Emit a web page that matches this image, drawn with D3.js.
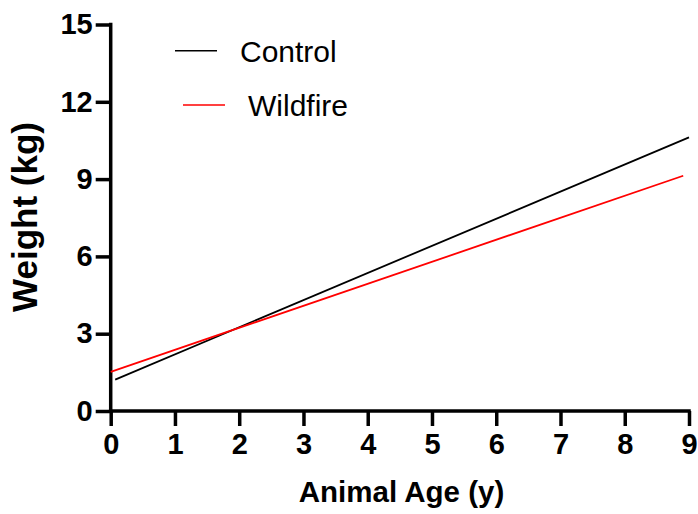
<html>
<head>
  <script src="https://d3js.org/d3.v7.min.js"></script>
  <style>
    body { margin: 0; background: #fff; }
    svg { font-family: 'Liberation Sans', Arial, sans-serif; }
  </style>
</head>
<body>
<div id="chart"></div>
<script>
  /*--- Chart data ---*/
  var seriesNames = ["Control", "Wildfire"],
    seriesColors = ["#000000", "#ff0000"],
    controlAge = [0.07, 9.0],
    controlWeight = [1.22, 10.62],
    wildfireAge = [0.0, 8.91],
    wildfireWeight = [1.52, 9.13],
    xTicks = [0, 1, 2, 3, 4, 5, 6, 7, 8, 9],
    yTicks = [0, 3, 6, 9, 12, 15];

  var width = 698, height = 514,
    margin = {top: 24.5, right: 9, bottom: 103, left: 110.7};

  var svg = d3.select("#chart").append("svg")
    .attr("width", width)
    .attr("height", height);

  var x = d3.scaleLinear().domain([0, 9]).range([margin.left, width - margin.right]),
    y = d3.scaleLinear().domain([0, 15]).range([height - margin.bottom, margin.top]);

  /*--- Axes ---*/
  var xAxis = svg.append("g")
    .attr("transform", "translate(0," + y(0) + ")")
    .call(d3.axisBottom(x).tickValues(xTicks).tickSize(15).tickPadding(7).tickSizeOuter(0));

  var yAxis = svg.append("g")
    .attr("transform", "translate(" + x(0) + ",0)")
    .call(d3.axisLeft(y).tickValues(yTicks).tickSize(15).tickPadding(3).tickSizeOuter(0));

  [xAxis, yAxis].forEach(function(a) {
    a.select(".domain").attr("stroke", "#000").attr("stroke-width", 3.5);
    a.selectAll(".tick line").attr("stroke", "#000").attr("stroke-width", 3.5);
    a.selectAll(".tick text")
      .attr("fill", "#000")
      .style("font-size", "29px")
      .style("font-weight", "bold")
      .style("font-family", "'Liberation Sans', Arial, sans-serif");
  });
  // extend domains to cover line caps at the corner
  xAxis.select(".domain").attr("d", "M" + (x(0) - 1.75) + ",0H" + (x(9) + 1.75));
  yAxis.select(".domain").attr("d", "M0," + (y(0) + 1.75) + "V" + (y(15) - 1.75));

  /*--- Axis titles ---*/
  svg.append("text")
    .attr("x", 401.5)
    .attr("y", 502)
    .attr("text-anchor", "middle")
    .style("font-size", "29.5px")
    .style("font-weight", "bold")
    .text("Animal Age (y)");

  svg.append("text")
    .attr("transform", "translate(37,217) rotate(-90)")
    .attr("text-anchor", "middle")
    .style("font-size", "35px")
    .style("font-weight", "bold")
    .text("Weight (kg)");

  /*--- Regression lines ---*/
  var line = d3.line()
    .x(function(d) { return x(d[0]); })
    .y(function(d) { return y(d[1]); });

  var series = [
    d3.zip(controlAge, controlWeight),
    d3.zip(wildfireAge, wildfireWeight)
  ];

  svg.selectAll(".fit")
    .data(series)
    .enter()
    .append("path")
    .attr("class", "fit")
    .attr("d", line)
    .attr("fill", "none")
    .attr("stroke", function(d, i) { return seriesColors[i]; })
    .attr("stroke-width", 1.8);

  /*--- Legend ---*/
  var legendPos = [[175, 217, 50.7, 240], [183, 225, 105, 248]];

  var legend = svg.selectAll(".legend")
    .data(seriesNames)
    .enter()
    .append("g")
    .attr("class", "legend");

  legend.append("line")
    .attr("x1", function(d, i) { return legendPos[i][0]; })
    .attr("x2", function(d, i) { return legendPos[i][1]; })
    .attr("y1", function(d, i) { return legendPos[i][2]; })
    .attr("y2", function(d, i) { return legendPos[i][2]; })
    .attr("stroke", function(d, i) { return seriesColors[i]; })
    .attr("stroke-width", 1.6);

  legend.append("text")
    .attr("x", function(d, i) { return legendPos[i][3]; })
    .attr("y", function(d, i) { return legendPos[i][2]; })
    .attr("dy", "0.36em")
    .style("font-size", "30px")
    .text(function(d) { return d; });
</script>
</body>
</html>
